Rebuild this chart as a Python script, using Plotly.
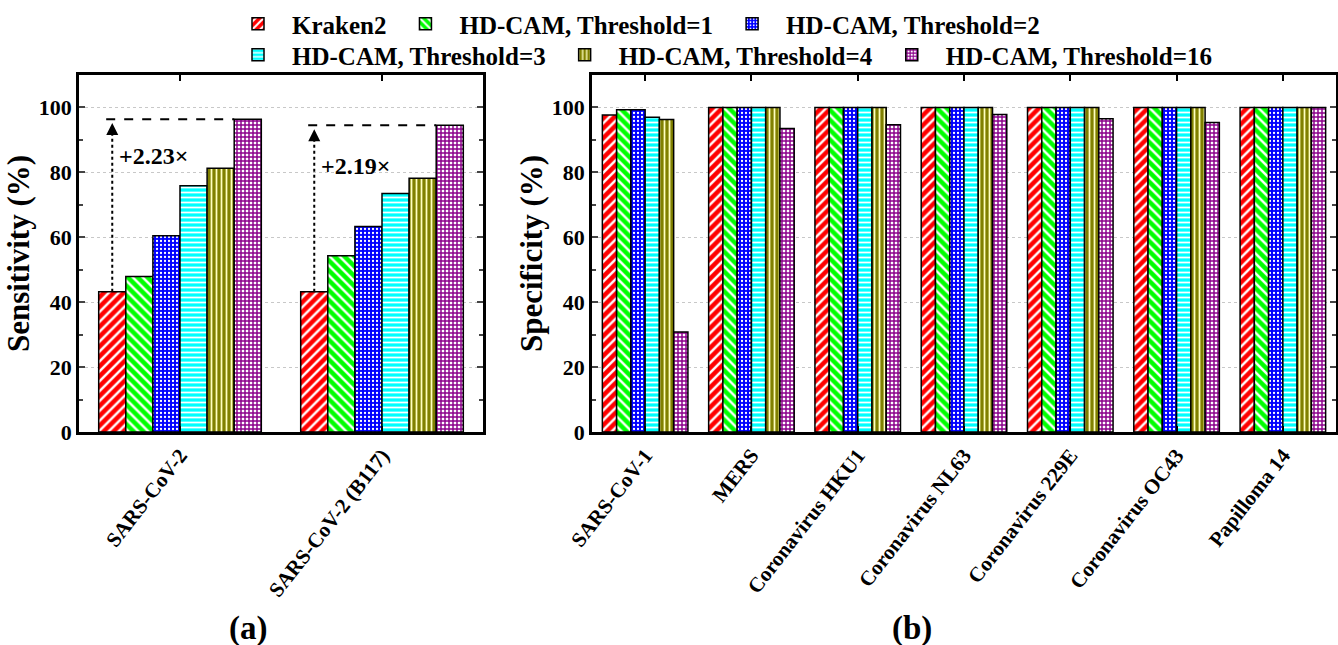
import plotly.graph_objects as go

FONT = "Liberation Serif"

# ---------------- data ----------------
series_names = ["Kraken2", "HD-CAM, Threshold=1", "HD-CAM, Threshold=2",
                "HD-CAM, Threshold=3", "HD-CAM, Threshold=4", "HD-CAM, Threshold=16"]

sens_categories = ["SARS-CoV-2", "SARS-CoV-2 (B117)"]
sens_kraken2 = [43.2, 43.2]
sens_t1 = [47.9, 54.3]
sens_t2 = [60.5, 63.3]
sens_t3 = [75.9, 73.5]
sens_t4 = [81.3, 78.2]
sens_t16 = [96.4, 94.5]
sens_gain_labels = ["+2.23×", "+2.19×"]

spec_categories = ["SARS-CoV-1", "MERS", "Coronavirus HKU1", "Coronavirus NL63",
                   "Coronavirus 229E", "Coronavirus OC43", "Papilloma 14"]
spec_kraken2 = [97.7, 100, 100, 100, 100, 100, 100]
spec_t1 = [99.3, 100, 100, 100, 100, 100, 100]
spec_t2 = [99.3, 100, 100, 100, 100, 100, 100]
spec_t3 = [97.0, 100, 100, 100, 100, 100, 100]
spec_t4 = [96.3, 100, 100, 100, 100, 100, 100]
spec_t16 = [30.8, 93.5, 94.7, 97.8, 96.5, 95.4, 100]

y_ticks = [0, 20, 40, 60, 80, 100]

# ---------------- layout geometry (pixels) ----------------
W, H = 1338, 645
ML, MR, MT, MB = 79, 2, 75, 213
PW, PH = W - ML - MR, H - MT - MB

def px_x(p):
    return (p - ML) / PW

def px_y(p):
    return (H - MB - p) / PH

# ---------------- styles ----------------
styles = [
    dict(bg="#FF0000", fg="white", shape="/", size=7, sol=0.35),
    dict(bg="#00FF00", fg="white", shape="\\", size=7, sol=0.35),
    dict(bg="#0000FF", fg="white", shape=".", size=4, sol=0.25),
    dict(bg="#00FFFF", fg="white", shape="-", size=5, sol=0.35),
    dict(bg="#808000", fg="#FFFFC0", shape="|", size=5, sol=0.35),
    dict(bg="white", fg="#8B008B", shape="+", size=4, sol=0.6),
]

sens_series = [sens_kraken2, sens_t1, sens_t2, sens_t3, sens_t4, sens_t16]
spec_series = [spec_kraken2, spec_t1, spec_t2, spec_t3, spec_t4, spec_t16]

BARGAP = 0.195
fig = go.Figure()

for i, (name, st) in enumerate(zip(series_names, styles)):
    marker = dict(color=st["bg"],
                  line=dict(color="black", width=1.5),
                  pattern=dict(shape=st["shape"], fgcolor=st["fg"], bgcolor=st["bg"],
                               size=st["size"], solidity=st["sol"], fillmode="replace"))
    fig.add_trace(go.Bar(x=sens_categories, y=sens_series[i], name=name, marker=marker,
                         xaxis="x", yaxis="y",
                         legend="legend" if i < 3 else "legend2"))
    fig.add_trace(go.Bar(x=spec_categories, y=spec_series[i], name=name, marker=marker,
                         xaxis="x2", yaxis="y2", showlegend=False))

# ---------------- annotations for gains ----------------
n = len(series_names)
w = (1 - BARGAP) / n
shapes = []
annotations = []
for k in range(len(sens_categories)):
    xr = k - (n - 1) / 2 * w          # red bar centre
    xp_left = k + (n - 1) / 2 * w - w / 2  # pink bar left edge
    top = sens_t16[k]
    base = sens_kraken2[k]
    shapes.append(dict(type="line", xref="x", yref="y", x0=xr - 0.03, x1=xp_left,
                       y0=top, y1=top, line=dict(color="black", width=2, dash="dash")))
    shapes.append(dict(type="line", xref="x", yref="y", x0=xr, x1=xr,
                       y0=base, y1=top - 2, line=dict(color="black", width=2, dash="dot")))
    annotations.append(dict(x=xr, y=top - 1.2, xref="x", yref="y", ax=0, ay=10,
                            showarrow=True, arrowhead=2, arrowsize=1.2, arrowwidth=2,
                            arrowcolor="black", text=""))
    annotations.append(dict(x=xr + 0.025, y=(85 if k == 0 else 82), xref="x", yref="y",
                            xanchor="left", yanchor="middle", showarrow=False,
                            text=sens_gain_labels[k],
                            font=dict(family=FONT, size=24, color="black", weight="bold")))

annotations.append(dict(x=px_x(248), y=px_y(628), xref="paper", yref="paper", showarrow=False,
                        text="(a)", xanchor="center", yanchor="middle",
                        font=dict(family=FONT, size=33, color="black", weight="bold")))
annotations.append(dict(x=px_x(912), y=px_y(628), xref="paper", yref="paper", showarrow=False,
                        text="(b)", xanchor="center", yanchor="middle",
                        font=dict(family=FONT, size=33, color="black", weight="bold")))

tickfont = dict(family=FONT, size=22, color="black", weight="bold")
xtickfont = dict(family=FONT, size=21, color="black", weight="bold")
titlefont = dict(family=FONT, size=31, color="black", weight="bold")

def yaxis_cfg(title, anchor):
    return dict(range=[0, 110], tickvals=y_ticks, ticks="inside", ticklen=6, tickwidth=2,
                minor=dict(ticks="inside", ticklen=4, tickwidth=2, dtick=10, showgrid=False),
                showline=True, linewidth=2.5, linecolor="black", mirror="ticks",
                showgrid=True, gridcolor="#c8c8c8", gridwidth=1, griddash="dot",
                tickfont=tickfont, title=dict(text=title, font=titlefont, standoff=0),
                anchor=anchor, domain=[0, 1], automargin=False,
                zeroline=False, fixedrange=True)

def xaxis_cfg(domain, anchor):
    return dict(domain=domain, anchor=anchor, type="category", tickangle=-52,
                ticks="inside", ticklen=6, tickwidth=2, tickcolor="black",
                showline=True, linewidth=2.5, linecolor="black", mirror="ticks",
                tickfont=xtickfont, showgrid=False, automargin=False)

legend_font = dict(family=FONT, size=25, color="black", weight="bold")

fig.update_layout(
    width=W, height=H,
    margin=dict(l=ML, r=MR, t=MT, b=MB, autoexpand=False),
    paper_bgcolor="white", plot_bgcolor="white",
    barmode="group", bargap=BARGAP, bargroupgap=0,
    xaxis=xaxis_cfg([0, px_x(483)], "y"),
    yaxis=yaxis_cfg("Sensitivity (%)", "x"),
    xaxis2=xaxis_cfg([px_x(592), 1], "y2"),
    yaxis2=yaxis_cfg("Specificity (%)", "x2"),
    shapes=shapes, annotations=annotations,
    legend=dict(orientation="h", x=px_x(224), xanchor="left", y=px_y(1), yanchor="top",
                font=legend_font, bgcolor="rgba(0,0,0,0)", itemwidth=58, tracegroupgap=0),
    legend2=dict(orientation="h", x=px_x(224), xanchor="left", y=px_y(32), yanchor="top",
                 font=legend_font, bgcolor="rgba(0,0,0,0)", itemwidth=58, tracegroupgap=0),
    showlegend=True,
)

fig.write_html("out.html")
